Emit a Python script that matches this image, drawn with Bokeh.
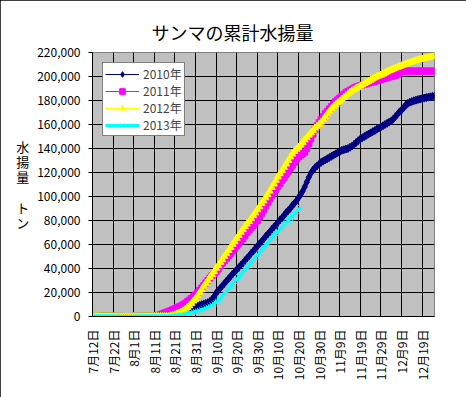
from math import pi
from bokeh.plotting import figure
from bokeh.models import (Range1d, FixedTicker, NumeralTickFormatter,
                          Legend, LegendItem)
from bokeh.embed import file_html
from bokeh.resources import INLINE

FONT = "Noto Sans CJK JP"

title_text = "サンマの累計水揚量"
ylabel_text = "水\n揚\n量\n\nト\nン"

# x axis: day 0 = 7月12日
tick_days = [0, 10, 20, 30, 40, 50, 60, 70, 80, 90, 100, 110, 120, 130, 140, 150, 160]
tick_labels = ["7月12日", "7月22日", "8月1日", "8月11日", "8月21日", "8月31日",
               "9月10日", "9月20日", "9月30日", "10月10日", "10月20日", "10月30日",
               "11月9日", "11月19日", "11月29日", "12月9日", "12月19日"]
y_ticks = [0, 20000, 40000, 60000, 80000, 100000, 120000, 140000, 160000,
           180000, 200000, 220000]

series_names = ["2010年", "2011年", "2012年", "2013年"]

# cumulative landings, thousand tons, one value per day from 7月12日
kt_2010 = [0, 0, 0, 0, 0, 0, 0, 0, 0, 0, 0, 0, 0, 0, 0, 0, 0, 0, 0, 0,
           0, 0, 0, 0, 0, 0, 0, 0, 0, 0, 0, 0, 0, 0, 0, 0,
           0.2, 0.4, 0.6, 0.9, 1.2, 1.6, 2.0, 2.6, 3.2, 3.9,
           4.7, 5.5, 6.3, 7.2, 8.0,
           8.6, 9.2, 9.8, 10.3, 10.9, 11.5, 12.6, 14.2, 16.5, 19.5,
           21.5, 23.6, 25.5, 27.4, 29.6, 31.5, 33.3, 35.4, 37.2, 39.0,
           40.8, 42.8, 44.5, 46.6, 48.6, 50.4, 52.7, 54.4, 56.6, 58.5,
           60.6, 62.3, 64.5, 66.7, 68.4, 70.3, 72.6, 74.4, 76.2, 78.3,
           80.5, 82.2, 84.4, 86.6, 88.3, 90.1, 92.6, 94.3, 96.5, 99.0,
           101.5, 104.5, 108.0, 112.0, 116.0, 119.5, 122.0, 124.0, 125.5, 127.0,
           128.5, 129.5, 130.5, 131.5, 132.5, 133.5, 134.5, 135.5, 136.5, 137.5,
           138.5, 139.0, 139.5, 140.0, 141.0, 142.0, 143.5, 145.0, 146.5, 148.0,
           149.0, 150.0, 151.0, 152.0, 153.0, 154.0, 155.0, 156.0, 157.0, 158.0,
           159.0, 160.0, 161.0, 162.0, 163.0, 164.5, 166.5, 168.5, 170.5, 172.0,
           174.0, 176.0, 177.5, 178.5, 179.2, 179.8, 180.3, 180.8, 181.2, 181.6,
           182.0, 182.4, 182.8, 183.1, 183.4, 183.6]

kt_2011 = [0, 0, 0, 0, 0, 0, 0, 0, 0, 0, 0, 0, 0, 0, 0, 0, 0, 0, 0, 0,
           0, 0, 0, 0, 0, 0, 0, 0, 0, 0,
           0.3, 0.6, 1.0, 1.5, 2.2, 3.0, 3.6, 4.2, 4.9, 5.6, 6.4,
           7.2, 8.0, 8.8, 9.8, 11.0, 12.3, 13.6, 15.0, 16.5, 18.0,
           19.8, 21.7, 23.7, 25.8, 28.0, 30.0, 32.0, 34.0, 35.7, 37.3,
           39.5, 42.0, 44.5, 46.5, 48.5, 50.5, 52.5, 54.5, 56.5, 59.0,
           61.0, 63.0, 65.0, 67.5, 70.0, 72.0, 74.0, 76.0, 78.0, 80.0,
           83.0, 86.0, 89.0, 92.0, 95.0, 98.0, 101.0, 104.0, 106.0, 108.5,
           111.0, 113.5, 116.0, 118.5, 121.0, 123.5, 126.0, 128.5, 131.0, 133.0,
           134.5, 135.5, 137.0, 140.0, 144.0, 148.0, 152.0, 156.0, 159.0, 161.5,
           164.0, 166.5, 169.0, 171.0, 173.0, 175.0, 177.0, 179.0, 180.5, 182.0,
           183.5, 185.0, 186.5, 187.5, 188.5, 189.5, 190.5, 191.2, 191.8, 192.4,
           193.0, 193.5, 194.0, 194.5, 195.0, 195.5, 196.0, 196.5, 197.0, 197.5,
           198.0, 198.5, 199.0, 199.5, 200.0, 200.5, 201.0, 202.0, 203.0, 204.0,
           204.5, 204.5, 204.5, 204.5, 204.5, 204.5, 204.5, 204.5, 204.5, 204.5,
           204.5, 204.5, 204.5, 204.5, 204.5, 204.5]

kt_2012 = [0, 0, 0, 0, 0, 0, 0, 0, 0, 0, 0, 0, 0, 0, 0, 0, 0, 0, 0, 0,
           0, 0, 0, 0, 0, 0, 0, 0, 0, 0, 0, 0, 0, 0, 0, 0, 0, 0,
           0.5, 1.0, 1.5, 2.2, 3.0, 3.8, 4.8, 6.0, 7.5, 9.0, 11.0, 13.0, 15.0,
           17.4, 20.1, 22.3, 25.2, 27.6, 29.8, 32.7, 35.1, 37.4, 40.2,
           42.5, 45.1, 47.3, 50.2, 52.4, 55.1, 57.6, 60.2, 62.4, 65.1,
           67.5, 70.2, 72.4, 74.9, 77.1, 79.2, 81.6, 84.1, 86.4, 89.0,
           91.5, 94.1, 96.4, 99.0, 101.6, 104.5, 107.6, 110.4, 113.5, 116.4,
           119.0, 121.6, 124.2, 127.1, 130.0, 133.0, 135.4, 137.6, 139.4, 141.2,
           143.0, 145.1, 147.2, 149.0, 151.2, 153.0, 155.1, 157.0, 158.6, 160.2,
           162.0, 164.1, 166.4, 168.9, 171.0, 173.1, 175.0, 176.6, 178.1, 179.5,
           181.0, 182.6, 184.0, 185.5, 187.0, 188.1, 189.0, 190.1, 191.0, 192.0,
           193.0, 194.1, 195.0, 196.1, 197.0, 198.0, 199.0, 200.0, 200.6, 201.2,
           202.0, 203.0, 204.0, 204.8, 205.5, 206.2, 207.0, 207.7, 208.4, 209.0,
           209.7, 210.4, 211.0, 211.6, 212.2, 212.8, 213.3, 213.8, 214.2, 214.6,
           215.0, 215.4, 215.8, 216.2, 216.5, 216.8]

kt_2013 = [0, 0, 0, 0, 0, 0, 0, 0, 0, 0, 0, 0, 0, 0, 0, 0, 0, 0, 0, 0,
           0, 0, 0, 0, 0, 0, 0, 0, 0, 0, 0, 0, 0, 0, 0, 0, 0, 0,
           0.2, 0.4, 0.6, 0.8, 1.0, 1.3, 1.6, 2.0, 2.4, 2.8, 3.2, 3.6, 4.0,
           4.5, 5.0, 5.6, 6.2, 7.0, 7.8, 8.6, 9.5, 10.5, 11.5,
           13.1, 14.9, 17.2, 19.0, 21.1, 22.8, 25.1, 27.0, 29.2, 31.0,
           33.1, 34.9, 37.2, 39.0, 41.1, 42.9, 45.2, 47.0, 49.1, 51.0,
           53.0, 55.2, 57.1, 58.9, 61.0, 63.1, 65.0, 67.2, 69.0, 70.9,
           72.8, 74.6, 76.4, 78.2, 80.0, 81.8, 83.6, 85.4, 87.2, 89.0, 91.0]

colors = ["#000080", "#FF00FF", "#FFFF00", "#00FFFF"]
markers = ["diamond", "square", "triangle", "x"]
marker_sizes = [8, 6, 7, 7]
line_widths = [1, 1, 1, 3]

p = figure(width=466, height=397, output_backend="svg", toolbar_location=None,
           x_range=Range1d(0, 166), y_range=Range1d(0, 220000),
           min_border_left=92, min_border_right=32, min_border_top=52,
           min_border_bottom=81)
p.styles = {"outline": "1px solid black", "outline-offset": "-1px"}
p.title.text = title_text
p.title.align = "left"
p.title.offset = 59
p.title.standoff = 16
p.title.text_font = FONT
p.title.text_font_size = "18px"
p.title.text_font_style = "normal"
p.title.text_color = "black"
p.background_fill_color = "#C0C0C0"
p.border_fill_color = "white"
p.outline_line_color = "#808080"

p.xaxis.ticker = FixedTicker(ticks=tick_days)
p.xgrid.ticker = FixedTicker(ticks=tick_days)
p.yaxis.ticker = FixedTicker(ticks=y_ticks)
p.ygrid.ticker = FixedTicker(ticks=y_ticks)
p.xaxis.major_label_overrides = {d: t for d, t in zip(tick_days, tick_labels)}
p.xaxis.major_label_orientation = pi / 2
p.yaxis.formatter = NumeralTickFormatter(format="0,0")
for g in (p.xgrid, p.ygrid):
    g.grid_line_color = "black"
    g.grid_line_width = 1
for ax in (p.xaxis, p.yaxis):
    ax.axis_line_color = "black"
    ax.major_tick_line_color = "black"
    ax.minor_tick_line_color = None
    ax.major_tick_in = 0
    ax.major_label_text_font = FONT
    ax.major_label_text_font_size = "12px"
    ax.major_label_text_color = "black"
p.xaxis.major_tick_out = 0
p.xaxis.major_label_standoff = 13
p.yaxis.major_tick_out = 4
p.yaxis.major_label_standoff = 8

p.yaxis.axis_label = ylabel_text
p.yaxis.axis_label_orientation = "horizontal"
p.yaxis.axis_label_text_font = FONT
p.yaxis.axis_label_text_font_size = "13px"
p.yaxis.axis_label_text_font_style = "normal"
p.yaxis.axis_label_text_color = "black"
p.yaxis.axis_label_text_line_height = 0.8
p.yaxis.axis_label_standoff = 5

items = []
for name, vals, c, m, s, lw in zip(series_names, [kt_2010, kt_2011, kt_2012, kt_2013],
                                   colors, markers, marker_sizes, line_widths):
    xs = list(range(len(vals)))
    ys = [v * 1000 for v in vals]
    r1 = p.line(xs, ys, line_color=c, line_width=lw)
    if m == "x":
        r2 = p.scatter(xs, ys, marker=m, size=s, line_color=c, line_width=1)
    else:
        r2 = p.scatter(xs, ys, marker=m, size=s, fill_color=c, line_color=c)
    items.append(LegendItem(label=name, renderers=[r1, r2]))

legend = Legend(items=items, location=(10, 180))
legend.border_line_color = "black"
legend.border_line_width = 1
legend.background_fill_color = "white"
legend.background_fill_alpha = 1
legend.label_text_font = FONT
legend.label_text_font_size = "12px"
legend.glyph_width = 34
legend.glyph_height = 14
legend.label_height = 14
legend.spacing = 0
legend.padding = 2
legend.label_standoff = 4
legend.margin = 0
p.add_layout(legend, "center")

open("out.html", "w").write(file_html(p, INLINE))
